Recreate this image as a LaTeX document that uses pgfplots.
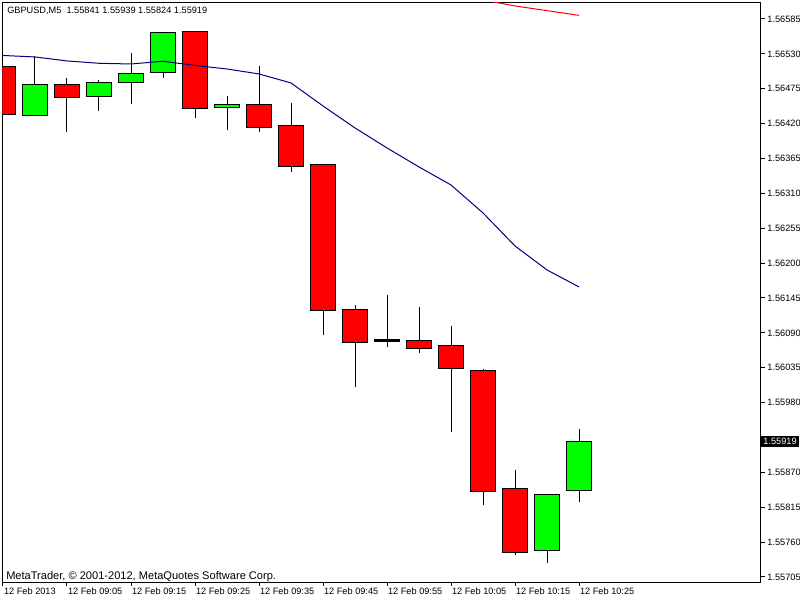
\documentclass[border=0pt]{standalone}
\usepackage{pgfplots}
\pgfplotsset{compat=1.18}
\usepackage{fontspec}
\setmainfont{Liberation Sans}
\definecolor{mtgreen}{RGB}{0,255,0}
\definecolor{mtred}{RGB}{255,0,0}
\definecolor{mtblue}{RGB}{0,0,128}
% centre, body left, body right, low, body low, body high, high, colour
\newcommand{\candle}[8]{%
  \addplot[black, line width=0.75pt] coordinates {(#1,#4) (#1,#7)};
  \addplot[draw=black, fill=#8, line width=0.75pt, line join=miter] coordinates {(#2,#5) (#3,#5) (#3,#6) (#2,#6)} -- cycle;}
\newcommand{\mtfont}{\fontsize{6.9}{8}\selectfont}
\begin{document}
\begin{tikzpicture}
\useasboundingbox[fill=white] (0,0) rectangle (600pt,450pt);
\begin{axis}[
  at={(1.875pt,13.5pt)}, anchor=south west,
  scale only axis, width=568.5pt, height=434.5pt,
  xmin=-0.0156, xmax=23.672, ymin=1.556971, ymax=1.566107,
  axis line style={line width=0.75pt},
  xtick={0,2,4,6,8,10,12,14,16,18},
  xticklabels={12 Feb 2013,12 Feb 09:05,12 Feb 09:15,12 Feb 09:25,12 Feb 09:35,12 Feb 09:45,12 Feb 09:55,12 Feb 10:05,12 Feb 10:15,12 Feb 10:25},
  ytick={1.55705,1.55760,1.55815,1.55870,1.55980,1.56035,1.56090,1.56145,1.56200,1.56255,1.56310,1.56365,1.56420,1.56475,1.56530,1.56585},
  yticklabels={1.55705,1.55760,1.55815,1.55870,1.55980,1.56035,1.56090,1.56145,1.56200,1.56255,1.56310,1.56365,1.56420,1.56475,1.56530,1.56585},
  xtick pos=bottom, ytick pos=right, yticklabel pos=right,
  tick align=outside, major tick length=3pt,
  tick style={black, line width=0.75pt},
  ticklabel style={font=\mtfont, inner sep=0pt},
  xticklabel style={anchor=north west, xshift=0.6pt, yshift=-1pt},
  yticklabel style={anchor=west, xshift=2pt},
]
\candle{0}{-0.38}{0.38}{1.56425}{1.56435}{1.56510}{1.56515}{mtred}
\candle{1}{0.62}{1.38}{1.56432}{1.56432}{1.56482}{1.56527}{mtgreen}
\candle{2}{1.62}{2.38}{1.56406}{1.56461}{1.56482}{1.56492}{mtred}
\candle{3}{2.62}{3.38}{1.56440}{1.56462}{1.56485}{1.56489}{mtgreen}
\candle{4}{3.62}{4.38}{1.56451}{1.56485}{1.56499}{1.56531}{mtgreen}
\candle{5}{4.62}{5.38}{1.56492}{1.56501}{1.56564}{1.56564}{mtgreen}
\candle{6}{5.62}{6.38}{1.56429}{1.56444}{1.56566}{1.56566}{mtred}
\candle{7}{6.62}{7.38}{1.56410}{1.56446}{1.56450}{1.56464}{mtgreen}
\candle{8}{7.62}{8.38}{1.56406}{1.56414}{1.56450}{1.56511}{mtred}
\candle{9}{8.62}{9.38}{1.56344}{1.56353}{1.56417}{1.56452}{mtred}
\candle{10}{9.62}{10.38}{1.56086}{1.56126}{1.56356}{1.56356}{mtred}
\candle{11}{10.62}{11.38}{1.56004}{1.56074}{1.56127}{1.56134}{mtred}
\candle{12}{11.62}{12.38}{1.56067}{1.56077}{1.56079}{1.56149}{black}
\candle{13}{12.62}{13.38}{1.56059}{1.56066}{1.56078}{1.56131}{mtred}
\candle{14}{13.62}{14.38}{1.55934}{1.56033}{1.56070}{1.56101}{mtred}
\candle{15}{14.62}{15.38}{1.55818}{1.55840}{1.56031}{1.56033}{mtred}
\candle{16}{15.62}{16.38}{1.55739}{1.55744}{1.55845}{1.55874}{mtred}
\candle{17}{16.62}{17.38}{1.55727}{1.55746}{1.55835}{1.55835}{mtgreen}
\candle{18}{17.62}{18.38}{1.55824}{1.55841}{1.55919}{1.55939}{mtgreen}
\addplot[mtblue, line width=0.75pt] coordinates {
(0,1.565274) (1,1.565251) (2,1.565188) (3,1.565151) (4,1.565140)
(5,1.565183) (6,1.565117) (7,1.565061) (8,1.564983) (9,1.564841)
(10,1.564478) (11,1.564131) (12,1.563816) (13,1.563516) (14,1.563232)
(15,1.562791) (16,1.562270) (17,1.561892) (18,1.561624)};
\addplot[mtred, line width=0.75pt] coordinates {
(15,1.566150) (16,1.566055) (17,1.565981) (18,1.565907)};
\coordinate (cp) at (axis cs:0,1.55919);
\coordinate (cr) at (rel axis cs:1,0);
\end{axis}
\node[fill=black, text=white, anchor=west, inner xsep=1.6pt, inner ysep=1.8pt, font=\mtfont] at ([xshift=0.4pt]cr |- cp) {1.55919};
\node[anchor=base west, inner sep=0pt, font=\mtfont] at (5.25pt,439.5pt) {GBPUSD,M5\ \ 1.55841 1.55939 1.55824 1.55919};
\node[anchor=base west, inner sep=0pt, font=\fontsize{8.3}{9}\selectfont] at (4.5pt,15.75pt) {MetaTrader, © 2001-2012, MetaQuotes Software Corp.};
\end{tikzpicture}
\end{document}
